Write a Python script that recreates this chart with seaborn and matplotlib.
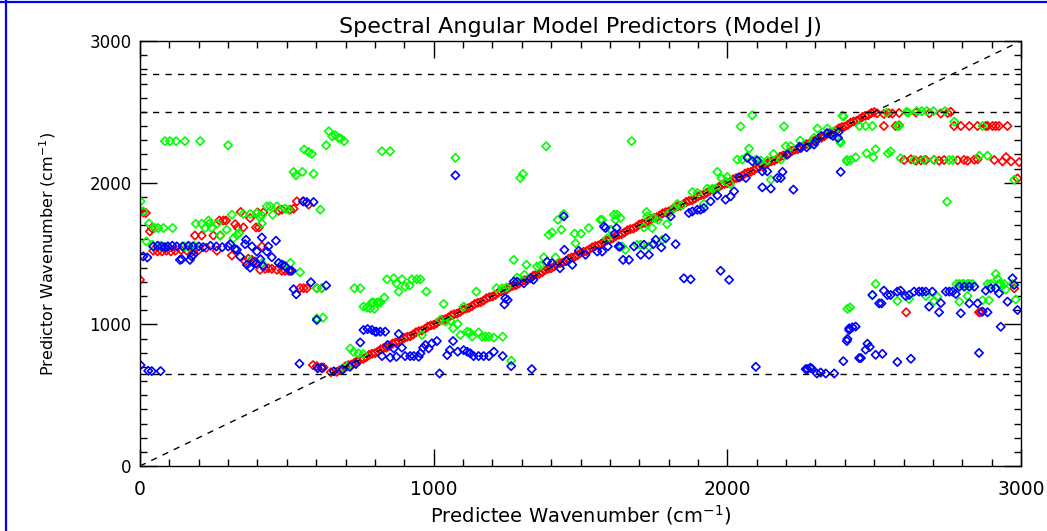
import numpy as np
import pandas as pd
import matplotlib
matplotlib.use("Agg")
import matplotlib.pyplot as plt
from matplotlib.lines import Line2D
from matplotlib.ticker import MultipleLocator
import seaborn as sns

# --- dados (cm-1) ---
ref_lines = [650, 2500, 2770]

red_diag_x = [650, 670, 690, 710, 730, 750, 770, 790, 810, 830, 850, 870, 890, 910, 930, 950, 970, 990,
              1010, 1030, 1050, 1070, 1090, 1110, 1130, 1150, 1170, 1190, 1210, 1230, 1250, 1270, 1290,
              1310, 1330, 1350, 1370, 1390, 1410, 1430, 1450, 1470, 1490, 1510, 1530, 1550, 1570, 1590,
              1610, 1630, 1650, 1670, 1690, 1710, 1730, 1750, 1770, 1790, 1810, 1830, 1850, 1870, 1890,
              1910, 1930, 1950, 1970, 1990, 2010, 2030, 2050, 2070, 2090, 2110, 2130, 2150, 2170, 2190,
              2210, 2230, 2250, 2270, 2290, 2310, 2330, 2350, 2370, 2390, 2410, 2430, 2450, 2470, 2490]
red_diag_y = [662, 665, 688, 712, 728, 752, 768, 792, 808, 832, 848, 872, 888, 912, 928, 952, 968, 992,
              1008, 1032, 1048, 1072, 1088, 1112, 1128, 1152, 1168, 1192, 1208, 1232, 1248, 1272, 1288,
              1312, 1328, 1352, 1368, 1392, 1408, 1432, 1448, 1472, 1488, 1512, 1528, 1552, 1568, 1592,
              1608, 1632, 1648, 1672, 1688, 1712, 1728, 1752, 1768, 1792, 1808, 1832, 1848, 1872, 1888,
              1912, 1928, 1952, 1968, 1992, 2008, 2032, 2048, 2072, 2088, 2112, 2128, 2152, 2168, 2192,
              2208, 2232, 2248, 2272, 2288, 2312, 2328, 2352, 2368, 2392, 2408, 2432, 2448, 2472, 2492]
# segunda fileira da faixa vermelha (pontos intercalados)
red_diag2_x = [680, 700, 720, 740, 760, 780, 800, 820, 840, 860, 880, 900, 920, 940, 960, 980, 1000,
               1020, 1040, 1060, 1080, 1100, 1120, 1140, 1160, 1180, 1200, 1220, 1240, 1260, 1280, 1300,
               1320, 1340, 1360, 1380, 1400, 1420, 1440, 1460, 1480, 1500, 1520, 1540, 1560, 1580, 1600,
               1620, 1640, 1660, 1680, 1700, 1720, 1740, 1760, 1780, 1800, 1820, 1840, 1860, 1880, 1900,
               1920, 1940, 1960, 1980, 2000, 2020, 2040, 2060, 2080, 2100, 2120, 2140, 2160, 2180, 2200,
               2220, 2240, 2260, 2280, 2300, 2320, 2340, 2360, 2380, 2400, 2420, 2440, 2460, 2480, 2500]
red_diag2_y = [676, 704, 716, 744, 756, 784, 796, 824, 836, 864, 876, 904, 916, 944, 956, 984, 996,
               1024, 1036, 1064, 1076, 1104, 1116, 1144, 1156, 1184, 1196, 1224, 1236, 1264, 1276, 1304,
               1316, 1344, 1356, 1384, 1396, 1424, 1436, 1464, 1476, 1504, 1516, 1544, 1556, 1584, 1596,
               1624, 1636, 1664, 1676, 1704, 1716, 1744, 1756, 1784, 1796, 1824, 1836, 1864, 1876, 1904,
               1916, 1944, 1956, 1984, 1996, 2024, 2036, 2064, 2076, 2104, 2116, 2144, 2156, 2184, 2196,
               2224, 2236, 2264, 2276, 2304, 2316, 2344, 2356, 2384, 2396, 2424, 2436, 2464, 2476, 2498]

red_pts = [(0, 1800), (11, 1790), (20, 1786), (34, 1656), (40, 1680), (0, 1314),
           (45, 1520), (60, 1515), (75, 1515), (90, 1520), (105, 1515), (120, 1520), (140, 1525),
           (160, 1520), (180, 1515), (200, 1525), (225, 1540), (262, 1520),
           (187, 1627), (210, 1627), (250, 1627), (273, 1627), (270, 1733), (284, 1733), (293, 1733),
           (324, 1707), (332, 1684), (352, 1684), (343, 1793), (375, 1750), (400, 1790), (420, 1790),
           (395, 1684), (405, 1684), (472, 1802), (483, 1809), (511, 1809), (523, 1816), (534, 1868),
           (557, 1868), (574, 1845), (313, 1486), (415, 1550), (358, 1444), (369, 1463), (381, 1455),
           (392, 1444), (409, 1385), (426, 1392), (437, 1396), (449, 1392), (466, 1385), (483, 1378),
           (494, 1378), (506, 1378), (545, 1255), (557, 1255), (568, 1255), (602, 1255), (619, 1255),
           (589, 712), (602, 705), (617, 696), (625, 696),
           (2510, 2490), (2533, 2485), (2550, 2490), (2562, 2488), (2585, 2492), (2642, 2495),
           (2688, 2490), (2727, 2488), (2750, 2492), (2761, 2500),
           (2533, 2400), (2573, 2400), (2585, 2405), (2772, 2400), (2795, 2400), (2824, 2400),
           (2852, 2400), (2880, 2400), (2886, 2400), (2903, 2400), (2914, 2400), (2925, 2400), (2954, 2400),
           (2602, 2160), (2625, 2165), (2642, 2155), (2659, 2158), (2676, 2160), (2704, 2162), (2721, 2155),
           (2738, 2160), (2784, 2158), (2806, 2160), (2818, 2155), (2841, 2162), (2852, 2165), (2909, 2160),
           (2937, 2150), (2949, 2180), (2966, 2150), (2994, 2145),
           (2988, 2030), (2977, 1254), (2609, 1085), (2857, 1085), (2863, 1085)]

green_pts = [(2, 1868), (11, 1797), (31, 1712), (22, 1585), (42, 1562), (51, 1680), (62, 1680), (80, 1680),
             (111, 1680), (70, 1555), (95, 1550), (150, 1550), (165, 1545), (185, 1555),
             (85, 2293), (102, 2293), (123, 2293), (153, 2293), (205, 2293), (300, 2264),
             (523, 2076), (531, 2052), (553, 2076), (591, 2062), (559, 2234), (574, 2217), (585, 2203),
             (634, 2264), (643, 2363), (654, 2328), (665, 2335), (676, 2316), (684, 2311), (695, 2293),
             (614, 1809), (824, 2222), (852, 2222),
             (190, 1710), (210, 1710), (236, 1710), (263, 1710), (233, 1733), (222, 1680), (244, 1680),
             (295, 1668), (273, 1627), (313, 1774), (352, 1779), (375, 1779), (398, 1785), (415, 1769),
             (432, 1833), (443, 1833), (466, 1833), (494, 1816), (506, 1809), (452, 1774), (415, 1712),
             (405, 1760), (330, 1632), (338, 1644), (318, 1608),
             (375, 1450), (415, 1433), (472, 1433), (489, 1418), (512, 1433), (545, 1368),
             (602, 1255), (619, 1255), (730, 1255), (750, 1255),
             (761, 1125), (773, 1118), (784, 1113), (795, 1153), (807, 1153), (818, 1153),
             (602, 1042), (623, 1047),
             (841, 1318), (864, 1325), (892, 1318), (926, 1318), (943, 1318), (955, 1318), (873, 1290),
             (903, 1267), (918, 1274), (881, 1231), (975, 1231),
             (790, 1155), (798, 1109), (812, 1155), (832, 1189),
             (716, 830), (727, 806), (744, 795), (695, 690), (705, 700), (760, 790),
             (1034, 1144), (1023, 1031), (1040, 1019), (1057, 1024), (1066, 972), (1082, 1003), (1091, 925),
             (1114, 948), (1123, 943), (1153, 943), (1131, 913), (1165, 913), (1176, 913), (1188, 913),
             (1205, 906), (1235, 913), (960, 925), (1264, 743), (1102, 1125), (1145, 1231),
             (1273, 1455), (1316, 1420), (1375, 1472), (1392, 1632), (1403, 1649), (1423, 1738),
             (1443, 1779), (1435, 1668), (1480, 1640), (1502, 1640), (1483, 1573), (1528, 1680),
             (1568, 1738), (1625, 1774), (1605, 1668), (1415, 1472), (1214, 1255), (1233, 1255),
             (1248, 1260), (1352, 1408), (1364, 1415), (1309, 1349), (1284, 1330),
             (1074, 2175), (1383, 2257), (1674, 2293), (1295, 2033), (1304, 2061),
             (2085, 2476), (2045, 2397), (2193, 2397), (2395, 2467), (2407, 2151), (2074, 2241),
             (2034, 2163), (2051, 2163), (2068, 2186), (2097, 2163), (2114, 2156), (2136, 2156),
             (2157, 2203), (2182, 2163), (2199, 2257), (2216, 2257), (2248, 2297), (2282, 2269),
             (2295, 2316), (2307, 2382), (2341, 2382), (2364, 2363), (2386, 2281), (2148, 2021),
             (1966, 2076), (1980, 2030), (1995, 2010), (2010, 1990), (2000, 2040),
             (1932, 1958), (1949, 1958), (1960, 1958), (1881, 1934), (1898, 1927), (1920, 1849),
             (1830, 1850), (1845, 1840), (1820, 1820), (1800, 1780),
             (1725, 1793), (1727, 1762), (1750, 1750), (1764, 1738),
             (1614, 1774), (1636, 1750), (1619, 1738), (1574, 1738), (1602, 1668), (1591, 1608),
             (1716, 1684), (1744, 1680), (1795, 1707),
             (1642, 1550), (1653, 1526), (1693, 1562), (1705, 1562), (1733, 1550), (1778, 1597),
             (2409, 1109),
             (2542, 2495), (2616, 2495), (2645, 2505), (2662, 2505), (2679, 2505), (2702, 2505),
             (2741, 2505), (2610, 2500),
             (2450, 2400), (2471, 2400), (2494, 2400), (2579, 2400), (2585, 2400), (2869, 2400),
             (2392, 2473), (2384, 2294), (2407, 2160), (2420, 2160), (2437, 2179), (2474, 2207),
             (2497, 2179), (2505, 2236), (2547, 2207), (2556, 2221), (2590, 2172), (2773, 2430),
             (2636, 2160), (2670, 2160), (2704, 2160), (2755, 2160), (2767, 2160), (2858, 2190), (2886, 2190),
             (2977, 2020), (2748, 1865), (2418, 1120),
             (2505, 1285), (2780, 1285), (2790, 1285), (2800, 1285), (2806, 1285), (2818, 1285),
             (2824, 1285), (2835, 1285), (2886, 1285), (2897, 1285), (2925, 1285), (2943, 1285), (2971, 1285),
             (2494, 1207), (2579, 1165), (2619, 1179), (2676, 1200), (2704, 1165), (2715, 1195),
             (2790, 1160), (2818, 1200), (2869, 1170), (2891, 1170), (2914, 1355), (2920, 1320),
             (2931, 1285), (2948, 1245), (2982, 1176)]

blue_pts = [(11, 1480), (25, 1472),
            (45, 1550), (60, 1555), (75, 1550), (85, 1545), (95, 1550), (110, 1555), (125, 1550),
            (145, 1550), (165, 1555), (180, 1550), (200, 1550), (215, 1545), (240, 1555), (260, 1550),
            (280, 1545), (300, 1550),
            (136, 1455), (142, 1460), (170, 1455), (176, 1479), (182, 1491),
            (307, 1566), (324, 1531), (330, 1526), (341, 1479),
            (358, 1566), (361, 1597), (381, 1550), (398, 1514), (415, 1613), (432, 1514), (437, 1550),
            (463, 1590), (364, 1420), (375, 1400), (385, 1440), (395, 1430), (410, 1460), (420, 1410),
            (449, 1474), (472, 1433), (483, 1422), (494, 1410), (511, 1378), (517, 1378),
            (523, 1248), (532, 1212), (582, 1297), (634, 1274), (602, 1031),
            (761, 960), (775, 967), (790, 960), (805, 948), (818, 948), (750, 872), (543, 722),
            (605, 690), (620, 690), (2, 712), (28, 672), (40, 670), (70, 670),
            (555, 1868), (568, 1863), (591, 1863),
            (801, 948), (835, 948),
            (881, 932), (843, 854), (864, 830), (892, 835), (824, 776), (852, 766), (873, 771),
            (903, 776), (920, 776), (932, 776), (949, 771), (964, 835), (972, 854), (983, 830),
            (994, 866), (1011, 882), (955, 795), (1046, 783), (1055, 818), (1066, 882), (1082, 807),
            (1102, 818), (1114, 807), (1125, 795), (1136, 776), (1153, 776), (1170, 776), (1188, 776),
            (1205, 807), (1235, 776), (1264, 705), (1020, 653), (1334, 684),
            (660, 668), (690, 680), (715, 700), (735, 720),
            (1244, 1184), (1252, 1172), (1241, 1141), (1273, 1302), (1284, 1302), (1307, 1290),
            (1330, 1325), (1340, 1315),
            (1386, 1443), (1403, 1432), (1430, 1396), (1452, 1448), (1472, 1420), (1445, 1526),
            (1494, 1519), (1517, 1491), (1557, 1514), (1580, 1691), (1593, 1550), (1630, 1550),
            (1443, 1762), (1074, 2052),
            (1574, 1514), (1585, 1680), (1623, 1680), (1616, 1640), (1634, 1548), (1645, 1455),
            (1665, 1455), (1682, 1550), (1705, 1491), (1733, 1491), (1716, 1562), (1748, 1566),
            (1756, 1597), (1775, 1543), (1790, 1608), (1824, 1566), (1807, 1762),
            (1852, 1325), (1875, 1318), (1977, 1378), (2006, 1314),
            (1898, 1809), (1909, 1809), (1920, 1821), (1881, 1797), (1869, 1786), (1943, 1868),
            (1966, 1910), (1994, 1880), (2011, 1903), (2023, 1939),
            (2068, 2175), (2085, 2151), (2102, 2156), (2119, 2080), (2136, 2080), (2170, 2033),
            (2182, 2033), (2188, 2076), (2119, 1967), (2148, 1958), (2225, 1951), (2040, 2038), (2063, 2033),
            (2205, 2199), (2250, 2245), (2295, 2269), (2352, 2340), (2377, 2316), (2386, 2076),
            (2246, 2254), (2270, 2250), (2300, 2290), (2320, 2330), (2340, 2350), (2360, 2330), (2380, 2360),
            (2415, 960), (2407, 882),
            (2097, 700), (2267, 684), (2273, 684), (2282, 693), (2287, 689), (2305, 653), (2318, 660),
            (2335, 653), (2364, 653),
            (2395, 740), (2409, 897), (2415, 972), (2426, 979), (2437, 984), (2449, 762), (2455, 762),
            (2471, 821), (2477, 863), (2485, 840), (2505, 785), (2528, 792), (2579, 734), (2625, 757),
            (2857, 798),
            (2494, 1207), (2517, 1148), (2525, 1148), (2533, 1238), (2545, 1207), (2556, 1207),
            (2579, 1231), (2590, 1238), (2607, 1200), (2619, 1207), (2636, 1231), (2653, 1231),
            (2664, 1231), (2676, 1231), (2687, 1125), (2698, 1231), (2721, 1085), (2727, 1150),
            (2744, 1231), (2756, 1231), (2767, 1231), (2778, 1214), (2790, 1266), (2807, 1266),
            (2824, 1266), (2841, 1266), (2795, 1078), (2824, 1148),
            (2880, 1238), (2897, 1254), (2914, 1254), (2925, 1219), (2931, 983), (2954, 1160),
            (2971, 1325), (2977, 1278), (2988, 1101), (2852, 1148), (2869, 1090), (2886, 1085)]

CORES = {"red": "#ff0000", "green": "#00ff00", "blue": "#0000ff"}


def montar_tabela():
    partes = [pd.DataFrame({"x": red_diag_x, "y": red_diag_y, "serie": "red"}),
              pd.DataFrame({"x": red_diag2_x, "y": red_diag2_y, "serie": "red"})]
    for nome, pts in [("red", red_pts), ("green", green_pts), ("blue", blue_pts)]:
        arr = np.array(pts, dtype=float)
        partes.append(pd.DataFrame({"x": arr[:, 0], "y": arr[:, 1], "serie": nome}))
    return pd.concat(partes, ignore_index=True)


df = montar_tabela()

sns.set_theme(style="ticks")
plt.rcParams["font.family"] = ["DejaVu Sans"]
plt.rcParams.update({"text.color": "black", "axes.labelcolor": "black",
                     "xtick.color": "black", "ytick.color": "black"})

fig = plt.figure(figsize=(10.47, 5.31), dpi=100)
ax = fig.add_axes([140 / 1047, 1 - 466 / 531, 881 / 1047, 425 / 531])

for nome in ["red", "green", "blue"]:
    sub = df[df["serie"] == nome]
    sns.scatterplot(data=sub, x="x", y="y", ax=ax, marker="D", s=18, color=CORES[nome],
                    linewidth=1.2, legend=False)
    pts = ax.collections[-1]
    pts.set_facecolor("none")
    pts.set_edgecolor(CORES[nome])

# linhas de referência
for yv in ref_lines:
    ax.axhline(yv, color="black", lw=1.0, ls=(0, (4.5, 4.5)), zorder=1)
ax.axline((0, 0), slope=1, color="black", lw=1.0, ls=(0, (4.5, 4.5)), zorder=1)

ax.set_xlim(0, 3000)
ax.set_ylim(0, 3000)
ax.xaxis.set_major_locator(MultipleLocator(1000))
ax.xaxis.set_minor_locator(MultipleLocator(100))
ax.yaxis.set_major_locator(MultipleLocator(1000))
ax.yaxis.set_minor_locator(MultipleLocator(100))
ax.tick_params(which="both", direction="in", top=True, right=True, color="black", width=1)
ax.tick_params(which="major", length=12)
ax.tick_params(which="minor", length=5)
ax.tick_params(axis="x", labelsize=13.5, pad=10)
ax.tick_params(axis="y", labelsize=12, pad=6)
for s in ax.spines.values():
    s.set_color("black")
    s.set_linewidth(1)

ax.set_xlabel("Predictee Wavenumber (cm$^{-1}$)", fontsize=14, labelpad=3)
ax.set_ylabel("Predictor Wavenumber (cm$^{-1}$)", fontsize=11.5)
ax.yaxis.set_label_coords(-82 / 881, 0.5)
ax.set_title("Spectral Angular Model Predictors (Model J)", fontsize=16, pad=6)

# moldura azul (topo e esquerda)
fig.add_artist(Line2D([6 / 1047, 6 / 1047], [0, 1], color="#0000ff", lw=1.6))
fig.add_artist(Line2D([0, 1], [1 - 2 / 531, 1 - 2 / 531], color="#0000ff", lw=1.6))

fig.savefig("out.png", dpi=100, facecolor="white")
